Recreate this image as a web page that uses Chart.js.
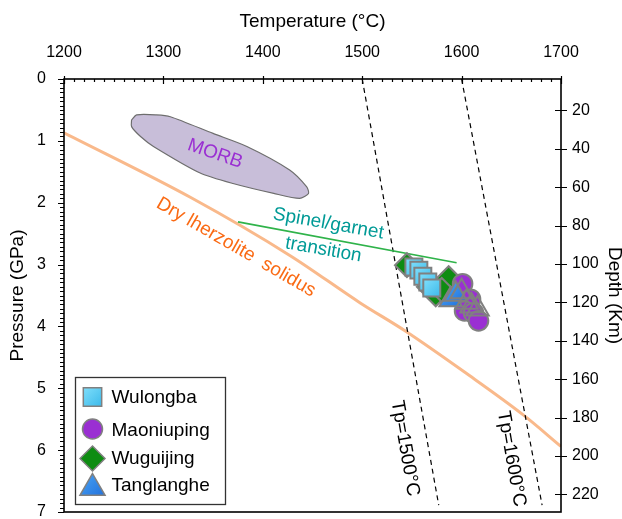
<!DOCTYPE html>
<html>
<head>
<meta charset="utf-8">
<script src="https://cdn.jsdelivr.net/npm/chart.js@4.4.1/dist/chart.umd.min.js"></script>
<style>
  html, body { margin: 0; padding: 0; background: #fff; }
  #wrap { width: 622px; height: 519px; }
</style>
</head>
<body>
<div id="wrap"><canvas id="c" width="622" height="519"></canvas></div>
<script>
const FONT = '"Liberation Sans", Arial, Helvetica, sans-serif';

// Sample P–T estimates: temperature (°C) and pressure (GPa)
const wulongbaT = [1552, 1557, 1561, 1566, 1570];
const wulongbaP = [3.04, 3.09, 3.19, 3.28, 3.38];
const maoniupingT = [1601, 1609, 1603, 1612, 1617];
const maoniupingP = [3.31, 3.56, 3.75, 3.78, 3.91];
const wuguijingT = [1545, 1567, 1574, 1587, 1580];
const wuguijingP = [3.01, 3.36, 3.48, 3.22, 3.41];
const tanglangheT = [1589, 1594, 1600, 1605, 1610, 1616];
const tanglangheP = [3.57, 3.48, 3.44, 3.61, 3.67, 3.72];

// Reference curves
const solidusT = [1200, 1328, 1428, 1498, 1543, 1604, 1662, 1700];
const solidusP = [0.87, 1.92, 2.86, 3.62, 4.07, 4.75, 5.43, 5.94];
const adiabat1500T = [1500, 1577];
const adiabat1500P = [0, 6.89];
const adiabat1600T = [1600, 1681];
const adiabat1600P = [0, 6.89];
const spinelGarnetT = [1375, 1595];
const spinelGarnetP = [2.31, 2.97];
const morbT = [1268, 1273, 1293, 1307, 1350, 1384, 1427, 1444, 1446, 1437, 1411, 1370, 1337, 1290, 1277, 1268, 1268];
const morbP = [0.66, 0.58, 0.58, 0.61, 0.88, 1.09, 1.47, 1.74, 1.85, 1.93, 1.85, 1.69, 1.52, 1.09, 0.93, 0.77, 0.66];

// Axis settings
const pressureRange = [0, 7];
const temperatureRange = [1200, 1700];
const depthRange = [3.7, 229.2];
const depthTicks = [20, 40, 60, 80, 100, 120, 140, 160, 180, 200, 220];

const pts = (xs, ys) => xs.map((x, i) => ({ x, y: ys[i] }));

const MARKER_EDGE = '#808080';
// fill colours: [light, dark] for a diagonal shading
const COLORS = {
  wulongba: ['#8ce6ff', '#2fb2e6'],
  maoniuping: ['#9a2fd2', '#9a2fd2'],
  wuguijing: ['#0e8c12', '#0e8c12'],
  tanglanghe: ['#4aa6f7', '#1c68d6']
};

const shade = (ctx, x, y, r, pair) => {
  if (![x, y, r].every(Number.isFinite)) return pair[1];
  const g = ctx.createLinearGradient(x - r, y - r, x + r, y + r);
  g.addColorStop(0, pair[0]);
  g.addColorStop(1, pair[1]);
  return g;
};

// In-plot text annotations, anchored in data units
const annotations = [
  { text: 'MORB', t: 1352, p: 1.21, rot: 19, color: '#9a2fd2' },
  { text: 'Dry lherzolite  solidus', t: 1373, p: 2.72, rot: 30, color: '#fa6a14' },
  { text: 'Spinel/garnet', t: 1466, p: 2.34, rot: 10, color: '#009a96' },
  { text: 'transition', t: 1461, p: 2.76, rot: 10, color: '#009a96' },
  { text: 'Tp=1500°C', t: 1543, p: 5.97, rot: 80, color: '#000' },
  { text: 'Tp=1600°C', t: 1650, p: 6.14, rot: 80, color: '#000' }
];

const annotationPlugin = {
  id: 'annotationText',
  afterDatasetsDraw(chart) {
    const { ctx, scales } = chart;
    ctx.save();
    ctx.font = '19px ' + FONT;
    ctx.textAlign = 'center';
    ctx.textBaseline = 'middle';
    for (const a of annotations) {
      const x = scales.x.getPixelForValue(a.t);
      const y = scales.y.getPixelForValue(a.p);
      ctx.save();
      ctx.translate(x, y);
      ctx.rotate(a.rot * Math.PI / 180);
      ctx.fillStyle = a.color;
      ctx.fillText(a.text, 0, 0);
      ctx.restore();
    }
    ctx.restore();
  }
};

// Frame with inward/outward tick marks
const framePlugin = {
  id: 'frameTicks',
  afterDraw(chart) {
    const { ctx, chartArea: a, scales } = chart;
    ctx.save();
    ctx.strokeStyle = '#000';
    ctx.lineWidth = 1.2;
    ctx.beginPath();
    for (let t = temperatureRange[0]; t <= temperatureRange[1]; t += 10) {
      const x = Math.round(scales.x.getPixelForValue(t)) + 0.5;
      const major = t % 100 === 0;
      ctx.moveTo(x, a.top - (major ? 3 : 0));
      ctx.lineTo(x, a.top + (major ? 5 : 3));
    }
    const sub = 14;
    for (let i = 0; i <= pressureRange[1] * sub; i++) {
      const y = Math.round(scales.y.getPixelForValue(i / sub)) + 0.5;
      const major = i % sub === 0;
      ctx.moveTo(a.left - (major ? 6 : 4), y);
      ctx.lineTo(a.left, y);
    }
    for (const d of depthTicks) {
      const y = Math.round(scales.y2.getPixelForValue(d)) + 0.5;
      ctx.moveTo(a.right - 6, y);
      ctx.lineTo(a.right + 6, y);
    }
    ctx.stroke();
    ctx.lineWidth = 1.6;
    ctx.strokeRect(a.left, a.top, a.right - a.left, a.bottom - a.top);
    ctx.restore();
  }
};

// Boxed legend in the lower-left corner of the plot
const legendItems = [
  { label: 'Wulongba', style: 'rect', radius: 13, color: COLORS.wulongba },
  { label: 'Maoniuping', style: 'circle', radius: 10, color: COLORS.maoniuping },
  { label: 'Wuguijing', style: 'rectRot', radius: 12.5, color: COLORS.wuguijing },
  { label: 'Tanglanghe', style: 'triangle', radius: 14.5, color: COLORS.tanglanghe }
];

const legendPlugin = {
  id: 'boxLegend',
  afterDraw(chart) {
    const { ctx } = chart;
    const box = { x: 75, y: 377, w: 150, h: 127 };
    const markerY = [397, 429, 458.5, 488];
    const textY = [402.5, 436, 463.5, 490.5];
    const mx = 92.5;
    ctx.save();
    ctx.fillStyle = '#fff';
    ctx.fillRect(box.x, box.y, box.w, box.h);
    ctx.strokeStyle = '#333';
    ctx.lineWidth = 1.3;
    ctx.strokeRect(box.x + 0.5, box.y + 0.5, box.w, box.h);
    legendItems.forEach((it, i) => {
      ctx.fillStyle = shade(ctx, mx, markerY[i], it.radius, it.color);
      ctx.strokeStyle = MARKER_EDGE;
      ctx.lineWidth = 1.5;
      Chart.helpers.drawPoint(ctx, { pointStyle: it.style, rotation: 0, radius: it.radius, borderWidth: 1.5 }, mx, markerY[i]);
      ctx.fillStyle = '#000';
      ctx.font = '19px ' + FONT;
      ctx.textAlign = 'left';
      ctx.textBaseline = 'alphabetic';
      ctx.fillText(it.label, 111.5, textY[i]);
    });
    ctx.restore();
  }
};

// Point fill with a diagonal shade placed at the point's pixel position
const pointFill = (pair, radius, hollow) => (c) => {
  if (hollow && hollow[c.dataIndex]) return 'rgba(0,0,0,0)';
  const chart = c.chart;
  if (!c.parsed || !chart.scales.x || !chart.scales.y) return pair[1];
  const x = chart.scales.x.getPixelForValue(c.parsed.x);
  const y = chart.scales.y.getPixelForValue(c.parsed.y);
  return shade(chart.ctx, x, y, radius, pair);
};

const markerSet = (label, xs, ys, style, radius, pair, order, hollow) => ({
  label,
  data: pts(xs, ys),
  pointStyle: style,
  pointRadius: radius,
  pointHoverRadius: radius,
  pointBackgroundColor: pointFill(pair, radius, hollow),
  pointBorderColor: MARKER_EDGE,
  pointBorderWidth: 2,
  showLine: false,
  order
});

const curveSet = (label, xs, ys, color, width, extra, order) => Object.assign({
  label,
  data: pts(xs, ys),
  showLine: true,
  pointRadius: 0,
  pointHoverRadius: 0,
  borderColor: color,
  borderWidth: width,
  fill: false,
  order
}, extra);

// Keep the plot frame fixed: no extra label overhang padding
const noOverhang = (s) => { s.paddingTop = 0; s.paddingBottom = 0; s.paddingLeft = 0; s.paddingRight = 0; };
const plainNumber = (v) => String(v);

new Chart(document.getElementById('c'), {
  type: 'scatter',
  data: {
    datasets: [
      markerSet('Tanglanghe', tanglangheT, tanglangheP, 'triangle', 13, COLORS.tanglanghe, 0, [false, false, true, true, true, true]),
      markerSet('Maoniuping', maoniupingT, maoniupingP, 'circle', 9.8, COLORS.maoniuping, 1),
      markerSet('Wulongba', wulongbaT, wulongbaP, 'rect', 12, COLORS.wulongba, 2),
      markerSet('Wuguijing', wuguijingT, wuguijingP, 'rectRot', 12, COLORS.wuguijing, 3),
      curveSet('Spinel/garnet transition', spinelGarnetT, spinelGarnetP, '#2fb34a', 1.6, {}, 4),
      curveSet('Tp 1500', adiabat1500T, adiabat1500P, '#000', 1.2, { borderDash: [5, 4] }, 5),
      curveSet('Tp 1600', adiabat1600T, adiabat1600P, '#000', 1.2, { borderDash: [5, 4] }, 5),
      curveSet('Dry lherzolite solidus', solidusT, solidusP, '#f9b98b', 3, { cubicInterpolationMode: 'monotone' }, 6),
      curveSet('MORB', morbT, morbP, '#6e6e6e', 1.2, { fill: 'shape', backgroundColor: '#c8bed9', tension: 0.25 }, 7)
    ]
  },
  options: {
    responsive: false,
    animation: false,
    events: [],
    layout: { autoPadding: false, padding: { top: 0, left: 0, right: 0, bottom: 7 } },
    plugins: {
      legend: { display: false },
      tooltip: { enabled: false }
    },
    scales: {
      x: {
        type: 'linear',
        position: 'top',
        min: temperatureRange[0],
        max: temperatureRange[1],
        grid: { display: false, drawTicks: false },
        border: { display: false },
        ticks: { stepSize: 100, maxRotation: 0, padding: 17, color: '#000', font: { family: FONT, size: 16 }, callback: plainNumber },
        title: { display: true, text: 'Temperature (°C)', color: '#000', font: { family: FONT, size: 19 }, padding: { top: 10, bottom: 0 } },
        afterFit(s) { s.height = 79; noOverhang(s); }
      },
      y: {
        type: 'linear',
        position: 'left',
        reverse: true,
        min: pressureRange[0],
        max: pressureRange[1],
        grid: { display: false, drawTicks: false },
        border: { display: false },
        ticks: { stepSize: 1, padding: 18, color: '#000', font: { family: FONT, size: 16 }, callback: plainNumber },
        title: { display: true, text: 'Pressure (GPa)', color: '#000', font: { family: FONT, size: 19 }, padding: { top: 6, bottom: 0 } },
        afterFit(s) { s.width = 64; noOverhang(s); }
      },
      y2: {
        type: 'linear',
        position: 'right',
        reverse: true,
        min: depthRange[0],
        max: depthRange[1],
        grid: { display: false, drawTicks: false },
        border: { display: false },
        afterBuildTicks(s) { s.ticks = depthTicks.map(v => ({ value: v })); },
        ticks: { padding: 11, color: '#000', font: { family: FONT, size: 16 }, callback: plainNumber },
        title: { display: true, text: 'Depth (Km)', color: '#000', font: { family: FONT, size: 19, lineHeight: 0.8 }, padding: { top: 0, bottom: 0 } },
        afterFit(s) { s.width = 61; noOverhang(s); }
      }
    }
  },
  plugins: [annotationPlugin, framePlugin, legendPlugin]
});
</script>
</body>
</html>
